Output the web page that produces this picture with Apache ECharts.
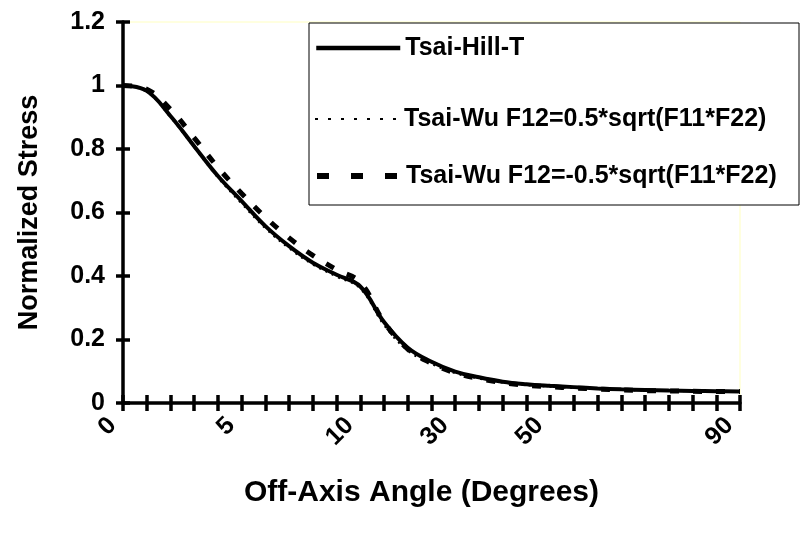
<!DOCTYPE html>
<html>
<head>
<meta charset="utf-8">
<script src="https://cdn.jsdelivr.net/npm/echarts@6/dist/echarts.min.js"></script>
<style>html,body{margin:0;padding:0;background:#fff}#c{width:800px;height:535px}</style>
</head>
<body>
<div id="c"></div>
<script>
const categories = [0,1,2,3,4,5,6,7,8,9,10,15,20,25,30,35,40,45,50,55,60,65,70,75,80,85,90];
const shownLabels = [0,5,10,30,50,90];
const yTicks = [0,0.2,0.4,0.6,0.8,1,1.2];
const tsaiHill = [1.0,0.983,0.904,0.809,0.715,0.636,0.557,0.494,0.442,0.404,0.367,0.255,0.174,0.130,0.099,0.081,0.067,0.059,0.054,0.050,0.046,0.043,0.041,0.039,0.038,0.037,0.036];
const tsaiWuPos = [1.0,0.980,0.900,0.805,0.710,0.628,0.550,0.487,0.436,0.398,0.360,0.245,0.165,0.123,0.094,0.077,0.064,0.056,0.051,0.047,0.044,0.041,0.039,0.038,0.037,0.036,0.035];
const tsaiWuNeg = [1.0,0.988,0.925,0.835,0.742,0.660,0.585,0.520,0.465,0.420,0.380,0.255,0.170,0.125,0.095,0.077,0.064,0.056,0.051,0.047,0.044,0.041,0.039,0.038,0.037,0.036,0.036];
const names = ['Tsai-Hill-T','Tsai-Wu F12=0.5*sqrt(F11*F22)','Tsai-Wu F12=-0.5*sqrt(F11*F22)'];

const FONT = 'Liberation Sans, Arial, sans-serif';
const chart = echarts.init(document.getElementById('c'), null, {renderer:'canvas'});
const gridRect = {left:123, right:60, top:22, bottom:132};
const legendText = {fontFamily:FONT, fontWeight:'bold', fontSize:25, color:'#000', lineHeight:26};
function legendAt(name, top, lineStyle){
  return {data:[name], orient:'vertical', left:314, top:top, padding:0, itemWidth:84, itemHeight:26,
          itemGap:0, textStyle:legendText, selectedMode:false, itemStyle:{opacity:0}, lineStyle:lineStyle};
}
chart.setOption({
  animation:false,
  backgroundColor:'#fff',
  grid:[
    Object.assign({show:true, borderColor:'#ffffc0', borderWidth:1, backgroundColor:'#fff'}, gridRect),
    Object.assign({show:false}, gridRect)
  ],
  graphic:[{type:'rect', z:3, shape:{x:309, y:23, width:490, height:182}, style:{fill:'#fff', stroke:'#000', lineWidth:1}}],
  legend:[
    legendAt(names[0],35,{width:4.5, type:'solid', color:'#000'}),
    legendAt(names[1],106,{width:2, type:[3,10], color:'#000'}),
    legendAt(names[2],163,{width:6, type:[12,22], color:'#000'})
  ],
  xAxis:[{
    type:'category', gridIndex:0, data:categories, boundaryGap:false,
    axisLine:{lineStyle:{color:'#000', width:3.5}},
    axisTick:{interval:0, length:8, lineStyle:{color:'#000', width:3.5}},
    axisLabel:{interval:(i,v)=>shownLabels.indexOf(Number(v))>=0, rotate:45, margin:8,
      padding:[0,15,0,0],
      fontFamily:FONT, fontWeight:'bold', fontSize:25, color:'#000'},
    splitLine:{show:false},
    name:'Off-Axis Angle (Degrees)', nameLocation:'middle', nameGap:75,
    nameTextStyle:{fontFamily:FONT, fontWeight:'bold', fontSize:30, color:'#000', padding:[0,20,0,0]}
  },{
    type:'category', gridIndex:1, data:categories, boundaryGap:false,
    axisLine:{show:false}, axisLabel:{show:false}, splitLine:{show:false},
    axisTick:{inside:true, interval:0, length:8, lineStyle:{color:'#000', width:3.5}}
  }],
  yAxis:[{
    type:'value', gridIndex:0, min:0, max:1.2, interval:0.2,
    axisLine:{show:true, lineStyle:{color:'#000', width:3.5}},
    axisTick:{show:true, length:7, lineStyle:{color:'#000', width:3.5}},
    axisLabel:{margin:18, fontFamily:FONT, fontWeight:'bold', fontSize:25, color:'#000',
      formatter:v=>{const t=yTicks.find(x=>Math.abs(x-v)<1e-9); return String(t===undefined?v:t);}},
    splitLine:{show:false},
    name:'Normalized Stress', nameLocation:'middle', nameGap:80,
    nameTextStyle:{fontFamily:FONT, fontWeight:'bold', fontSize:27, color:'#000'}
  },{
    type:'value', gridIndex:1, min:0, max:1.2, interval:0.2,
    axisLine:{show:false}, axisLabel:{show:false}, splitLine:{show:false},
    axisTick:{show:true, inside:true, length:7, lineStyle:{color:'#000', width:3.5}}
  }],
  series:[
    {name:names[0], type:'line', data:tsaiHill, symbol:'none', smooth:0.4, z:5,
     lineStyle:{color:'#000', width:4, type:'solid'}, itemStyle:{color:'#000'}},
    {name:names[1], type:'line', data:tsaiWuPos, symbol:'none', smooth:0.4, z:4,
     lineStyle:{color:'#000', width:2, type:[2,5]}, itemStyle:{color:'#000'}},
    {name:names[2], type:'line', data:tsaiWuNeg, symbol:'none', smooth:0.4, z:3,
     lineStyle:{color:'#000', width:5, type:[9,14]}, itemStyle:{color:'#000'}}
  ]
});
</script>
</body>
</html>
